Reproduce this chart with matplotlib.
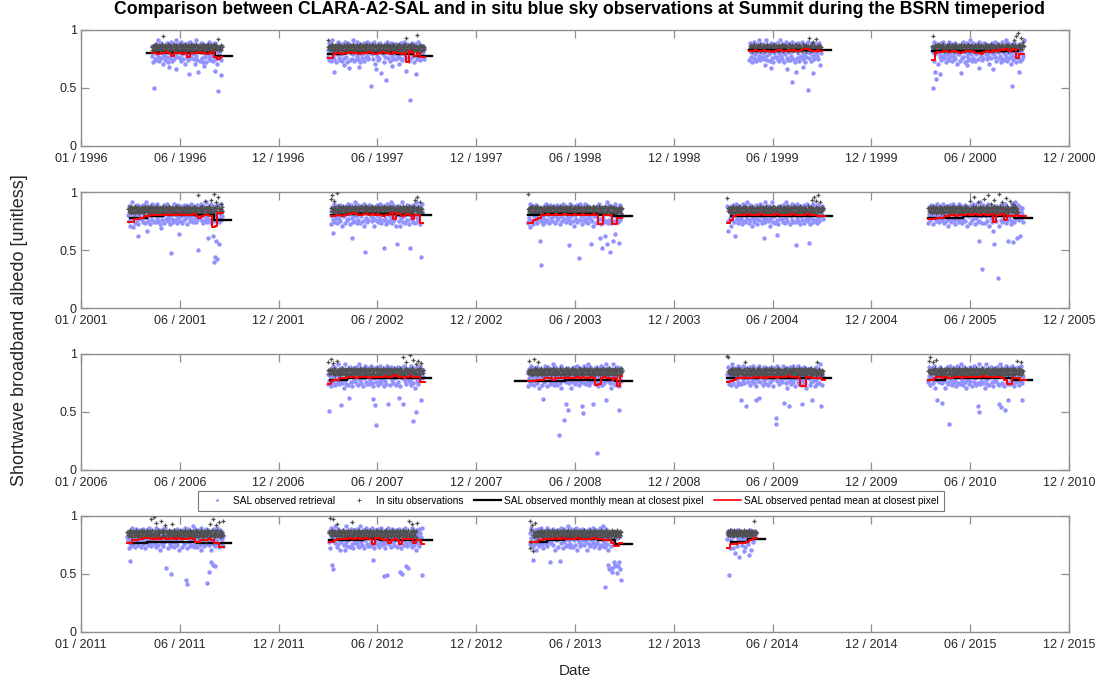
import numpy as np
import matplotlib
matplotlib.use("Agg")
import matplotlib.pyplot as plt
from matplotlib.lines import Line2D

plt.rcParams['font.family'] = ['Liberation Sans', 'DejaVu Sans']

# ---------------------------------------------------------------------------
# Data: albedo values in percent (x 0.01), one entry per day of the season
# ---------------------------------------------------------------------------
PANEL_STARTS = [1996, 2001, 2006, 2011]
SEASONS = [1996, 1997, 1999, 2000, 2001, 2002, 2003, 2004, 2005,
           2007, 2008, 2009, 2010, 2011, 2012, 2013, 2014]

# first day-of-year with observations in each season
DATA_START_DOY = {1996: 131, 1997: 91, 1999: 139, 2000: 112, 2001: 87, 2002: 96,
                  2003: 95, 2004: 99, 2005: 105, 2007: 91, 2008: 95, 2009: 99,
                  2010: 105, 2011: 85, 2012: 93, 2013: 99, 2014: 99}

# day-of-year span covered by the monthly means
MONTHLY_SPAN = {1996: (122, 278), 1997: (91, 283), 1999: (139, 291), 2000: (112, 270),
                2001: (90, 277), 2002: (96, 281), 2003: (95, 287), 2004: (106, 292),
                2005: (105, 296), 2007: (95, 281), 2008: (71, 287), 2009: (99, 291),
                2010: (105, 296), 2011: (90, 277), 2012: (93, 283), 2013: (99, 287),
                2014: (106, 169)}

MONTHLY_MEAN = {
    1996: "80 80 80 80 78",
    1997: "79 80 80 80 79 78",
    1999: "83 83 83 83 83",
    2000: "82 82 82 82 82",
    2001: "78 79 80 80 80 76",
    2002: "80 81 81 81 80 80",
    2003: "80 81 81 81 80 79",
    2004: "79 79 79 79 79 79",
    2005: "78 78 79 79 79 78",
    2007: "78 79 79 79 79 79",
    2008: "77 77 77 78 78 78 77",
    2009: "79 79 79 79 79 79",
    2010: "78 79 79 79 79 78",
    2011: "77 78 78 78 77 77",
    2012: "79 79 80 79 79 79",
    2013: "78 79 80 80 79 76",
    2014: "78 80",
}

PENTAD_MEAN = {
    1996: "80 80 79 80 80 81 80 78 80 80 80 79 80 77 80 80 80 81 80 80 79 80 81 77 75 77",
    1997: "76 76 79 80 80 79 80 80 81 80 80 79 80 80 80 81 80 79 80 80 81 80 80 79 81 80 80 79 80 72 82 80 78 80 77 77",
    1999: "82 82 83 82 82 83 82 82 81 82 83 83 82 82 83 82 83 82 82 83 84 84 83 82 82 83 82",
    2000: "74 80 81 81 82 82 81 82 82 81 80 81 82 82 82 81 80 80 79 81 82 81 83 82 82 84 83 84 82 83 84 76 79 79",
    2001: "74 74 77 77 78 78 79 79 80 80 80 80 80 80 80 81 80 80 80 81 80 80 80 80 81 79 78 79 80 80 79 70 71 82 82",
    2002: "79 79 80 80 79 80 81 81 82 81 80 80 81 81 80 81 80 81 80 79 80 80 82 77 82 81 79 80 81 80 77 80 80 73",
    2003: "73 73 76 77 78 80 80 81 80 80 81 80 80 81 80 80 80 81 80 80 81 80 80 80 81 80 72 72 80 80 80 72 72 78 78",
    2004: "73 76 79 80 80 80 80 81 80 80 80 80 81 80 80 80 80 80 81 80 80 80 80 80 81 80 80 80 80 81 80 80 80 79 79 79",
    2005: "77 77 77 78 78 78 79 79 80 80 79 80 80 80 81 80 80 81 80 80 81 80 80 81 74 80 80 81 76 80 79 79 80 79 79 79",
    2007: "74 77 78 78 79 79 79 80 80 80 79 80 80 80 80 79 80 80 80 80 80 81 80 80 82 81 80 80 79 80 81 80 80 80 76 76",
    2008: "77 77 77 78 78 78 79 79 79 78 79 79 79 79 80 79 79 79 80 79 80 79 79 80 79 73 74 79 80 79 79 78 79 72 81",
    2009: "76 77 78 79 79 79 80 79 79 79 80 80 79 80 79 80 80 80 79 80 80 80 81 80 80 80 79 72 72 80 80 79 79 79 79 78",
    2010: "78 78 79 80 80 79 80 79 79 80 80 80 79 80 80 80 80 80 80 80 81 80 80 80 80 80 80 79 78 74 74 79 79 79 78 78",
    2011: "77 77 79 79 80 80 81 81 81 80 80 81 80 81 80 80 81 80 80 81 80 80 80 81 80 78 78 79 79 79 80 79 77 77 73 73",
    2012: "78 78 79 80 80 80 80 81 80 80 81 80 80 81 80 80 76 81 81 80 79 80 77 79 80 79 76 80 80 80 80 77 79 79 76",
    2013: "78 78 78 79 79 80 80 80 80 81 80 80 81 80 80 80 80 81 80 80 80 80 80 81 80 80 80 79 79 79 77 74 74 77",
    2014: "72 76 76 76 77 77 77 78 79 80 81",
}

SAL_RETRIEVAL = {
    1996: """78 86 72 83 50 75 81 88 74 84 79 91 77 85 73 82 89 76 80 87 71 84 78 86 81
             74 83 89 77 81 72 87 68 85 76 90 79 83 73 88 82 75 86 78 91 66 81 84 77 88
             85 76 81 90 73 84 79 87 75 82 88 71 80 86 77 83 89 74 62 78 82 90 76 84 79
             80 88 75 83 71 86 78 91 82 74 85 64 87 73 84 81 89 76 83 72 88 80 69 77 86
             72 84 87 79 82 76 90 74 85 81 78 88 73 83 86 77 65 89 75 84 82 71 47 79 85
             83 77 61 74 86""",
    1997: """83 77 89 74 86 80 73 85 91 78 82 75 64 81 84 72 87 79 83 90 76 85 74 81 88
             79 85 73 88 70 76 84 90 77 81 86 72 83 89 67 85 74 80 87 75 82 91 79 84 73
             87 74 82 78 90 81 75 86 68 72 88 79 84 76 85 80 89 73 82 86 77 83 90 78 75
             76 89 81 84 52 87 79 82 88 75 83 90 71 66 80 78 84 74 87 82 76 89 81 85 63
             82 79 86 72 84 88 77 81 57 90 83 76 85 80 87 73 82 89 78 69 75 86 81 79 88
             88 75 80 85 78 83 71 87 82 76 89 80 74 86 84 79 90 77 83 65 85 81 88 76 82
             73 81 40 80 76 89 84 78 85 72 82 88 62 86 75 83 90 77 81 84 74 87 80 83 78
             81 86 75 84""",
    1999: """74 83 89 77 81 72 87 80 85 76 90 79 83 73 88 82 75 86 78 91 74 81 84 77 88
             80 88 75 83 70 86 78 91 82 74 85 79 87 73 84 67 89 76 83 72 88 80 85 77 86
             83 77 89 74 86 80 73 85 91 78 82 75 88 81 84 72 87 79 83 90 76 66 74 81 88
             87 74 82 78 90 55 75 86 83 72 88 64 84 76 85 80 89 73 82 86 77 83 90 78 75
             68 79 86 72 84 88 77 81 48 90 83 76 85 80 87 73 82 89 78 63 75 86 81 79 88
             84 78 87 75 82 89 70 80""",
    2000: """85 50 81 90 73 64 79 87 58 82 88 71 80 86 77 62 89 74 85 78 82 90 76 84 79
             72 84 87 79 82 76 90 74 85 81 78 88 73 83 86 77 80 89 75 84 82 71 87 79 85
             79 85 73 63 82 76 84 90 77 81 86 72 83 89 78 70 74 80 87 75 82 91 79 84 73
             76 89 81 84 73 87 79 82 88 75 83 90 67 86 80 78 84 74 87 82 76 89 81 85 79
             88 75 80 85 78 83 71 87 82 76 89 80 66 86 84 79 90 77 83 73 85 81 88 76 82
             78 86 72 83 90 75 81 88 74 84 79 91 77 85 73 82 89 76 80 87 71 84 78 52 81
             74 83 89 77 81 72 87 80 85 76 64 79 83 73 88 82 75 86 78 91""",
    2001: """80 88 75 83 71 86 78 91 82 70 85 79 87 73 84 81 89 76 62 72 88 80 85 77 86
             83 77 89 74 86 80 73 85 91 78 66 75 88 81 84 72 87 79 83 90 76 85 74 81 88
             87 74 82 78 90 81 75 86 83 72 69 79 84 76 85 80 89 73 82 86 77 83 90 78 75
             82 79 86 72 84 47 77 81 74 90 83 76 85 80 87 73 82 89 78 64 75 86 81 79 88
             73 81 87 80 76 89 84 78 85 72 82 88 79 86 75 83 90 77 81 84 74 87 80 83 78
             74 83 89 77 81 50 87 80 85 76 90 79 83 73 88 82 75 86 78 91 74 81 60 77 88
             85 76 81 90 73 84 79 62 75 40 88 44 80 58 77 42 89 74 55 78 82 90 76 84 79""",
    2002: """72 84 87 79 65 76 90 74 85 81 78 88 73 83 86 77 80 89 75 84 82 71 87 79 85
             79 85 73 88 82 76 84 90 77 81 86 72 83 89 78 60 74 80 87 75 82 91 79 84 73
             76 89 81 84 73 87 79 82 88 75 83 90 71 86 48 78 84 74 87 82 76 89 81 85 79
             88 75 80 85 78 83 71 87 82 76 89 80 74 86 84 79 90 77 83 73 85 81 88 76 52
             78 86 72 83 90 75 81 88 74 84 79 91 77 85 73 82 89 76 80 87 71 84 55 86 81
             80 88 75 83 71 86 78 91 82 74 85 79 87 73 84 81 89 76 83 72 88 80 52 77 86
             83 77 89 74 86 80 73 85 91 78 82 75 88 81 84 72 87 44 83 90""",
    2003: """73 74 82 78 90 70 75 86 83 72 88 79 84 76 85 80 89 73 82 86 77 83 58 78 75
             37 79 86 72 84 88 77 81 74 90 83 76 85 80 87 73 82 89 78 84 75 86 81 79 88
             73 81 87 80 76 89 84 78 85 72 82 88 79 86 75 83 90 77 81 84 74 87 80 83 78
             85 76 54 90 73 84 79 87 75 82 88 71 80 86 77 83 89 74 85 43 82 90 76 84 79
             72 84 87 79 82 76 90 74 85 81 78 88 73 83 86 77 80 55 75 84 82 71 87 79 85
             79 85 73 88 82 76 84 90 77 60 86 72 83 52 78 85 74 62 87 75 82 91 55 84 73
             76 89 81 48 73 87 79 82 58 75 83 90 64 86 80 78 84 74 87 56 76 89 81 85 79""",
    2004: """88 75 66 85 78 83 71 87 82 76 89 80 74 86 62 79 90 77 83 73 85 81 88 76 82
             78 86 72 83 90 75 81 88 74 84 79 91 77 85 73 82 89 76 80 87 71 84 78 86 81
             74 83 89 77 81 72 87 80 85 76 90 79 83 73 88 82 75 60 78 91 74 81 84 77 88
             80 88 75 83 71 86 78 91 82 74 85 79 87 73 84 81 63 76 83 72 88 80 85 77 86
             83 77 89 74 86 80 73 85 91 78 82 75 88 81 84 72 87 79 83 90 76 85 74 81 88
             87 74 54 78 90 81 75 86 83 72 88 79 84 76 85 80 89 73 82 86 77 83 90 78 75
             56 79 86 72 84 88 77 81 74 90 83 76 85 80 87 73 82 89 78 84 75 86 81 79 88
             80 85 77""",
    2005: """73 81 87 80 76 89 84 78 85 72 82 88 79 86 75 83 90 77 81 84 74 87 80 83 78
             85 76 81 90 73 84 79 87 75 82 88 71 80 86 77 83 89 74 85 78 82 90 76 84 79
             72 84 87 79 82 76 90 74 85 81 78 88 73 83 86 77 80 89 75 84 82 71 87 79 85
             79 85 73 88 82 76 84 90 77 81 86 72 83 89 78 85 74 80 58 75 82 91 79 84 73
             34 89 81 84 73 87 79 82 88 75 83 90 71 86 80 78 84 74 87 66 76 55 81 85 79
             88 75 80 85 26 83 71 87 82 76 89 80 74 86 84 79 90 77 83 73 85 81 58 76 82
             78 86 72 83 90 75 57 88 74 84 79 91 77 85 60 82 89 76 80 87 62 84 78 86 81
             74""",
    2007: """74 83 51 77 81 72 87 80 85 76 90 79 83 73 88 82 75 86 78 91 74 81 84 77 88
             56 88 75 83 71 86 78 91 82 74 85 79 87 73 62 81 89 76 83 72 88 80 85 77 86
             83 77 89 74 86 80 73 85 91 78 82 75 88 81 84 72 87 79 83 90 76 85 74 81 88
             87 74 82 78 90 81 75 86 61 72 88 79 56 76 39 80 89 73 82 86 77 83 90 78 75
             82 79 86 72 84 88 77 81 74 90 83 57 85 80 87 73 82 89 78 84 75 86 81 79 88
             73 81 87 80 76 89 84 62 85 72 82 88 79 86 57 83 90 77 81 84 74 87 80 83 78
             85 76 81 90 73 84 79 42 75 82 88 71 80 50 77 83 89 74 85 78 82 90 60 84 79
             80 86""",
    2008: """72 84 87 79 82 76 90 74 85 81 78 88 73 83 86 77 80 89 75 84 82 71 87 79 85
             79 85 73 61 82 76 84 90 77 81 86 72 83 89 78 85 74 80 87 75 82 91 79 84 73
             76 89 81 84 73 87 79 82 30 75 83 90 71 86 80 78 84 43 87 82 76 57 81 85 52
             88 75 80 85 78 83 71 87 82 76 89 80 74 86 84 79 90 77 83 73 85 81 88 76 82
             55 86 49 83 90 75 81 88 74 84 79 91 77 85 73 82 89 76 80 87 57 84 78 86 81
             74 83 89 77 15 72 87 80 85 76 90 79 83 73 88 82 75 86 78 91 60 81 84 77 88
             80 88 75 83 71 86 78 91 82 74 85 79 87 73 84 81 89 76 52 72 88 80 85 77 86""",
    2009: """83 77 89 74 86 80 73 85 91 78 82 75 88 81 84 72 87 79 83 90 76 85 74 81 88
             60 74 82 78 90 81 75 86 83 55 88 79 84 76 85 80 89 73 82 86 77 83 90 78 75
             82 79 60 72 84 88 77 81 62 90 83 76 85 80 87 73 82 89 78 84 75 86 81 79 88
             73 81 87 80 76 89 84 78 85 72 82 88 79 86 45 40 90 77 81 84 74 87 80 83 78
             85 76 81 90 58 84 79 87 75 82 88 71 80 55 77 83 89 74 85 78 82 90 76 84 79
             72 84 87 79 82 76 90 74 85 81 78 88 73 57 86 77 80 89 75 84 82 71 87 79 85
             79 85 73 88 82 76 84 60 77 81 86 72 83 89 78 85 74 80 87 75 82 91 79 55 73
             84 80""",
    2010: """76 89 81 84 73 87 79 82 88 75 83 90 71 86 80 78 84 60 87 82 76 89 81 85 79
             58 75 80 85 78 83 71 87 82 76 89 80 74 86 40 79 90 77 83 73 85 81 88 76 82
             78 86 72 83 90 75 81 88 74 84 79 91 77 85 73 82 89 76 80 87 71 84 78 86 81
             74 83 89 77 81 72 87 80 85 76 90 79 83 73 88 82 75 55 50 91 74 81 84 77 88
             80 88 75 83 71 86 78 91 82 74 85 79 87 73 84 81 89 76 83 72 88 80 85 77 86
             83 77 89 74 86 57 73 85 91 54 82 75 88 81 84 72 52 79 83 90 76 85 74 60 88
             87 74 82 78 90 81 75 86 83 72 88 79 84 76 85 80 89 73 82 86 77 83 90 60 75
             81""",
    2011: """82 79 86 72 84 61 77 81 74 90 83 76 85 80 87 73 82 89 78 84 75 86 81 79 88
             73 81 87 80 76 89 84 78 85 72 82 88 79 86 75 83 90 77 81 84 74 87 80 83 78
             85 76 81 90 73 84 79 87 75 82 88 71 80 86 77 83 89 74 85 78 82 90 55 84 79
             72 84 87 79 82 76 50 74 85 81 78 88 73 83 86 77 80 89 75 84 82 71 87 79 85
             79 85 73 88 82 76 84 90 77 45 41 72 83 89 78 85 74 80 87 75 82 91 79 84 73
             76 89 81 84 73 87 79 82 88 75 83 90 71 86 80 78 84 74 87 82 76 89 42 85 79
             88 75 52 85 78 60 71 87 58 76 89 80 74 57 84 79 90 77 83 73 85 81 88 76 82
             80 86 74 83""",
    2012: """78 86 72 83 90 58 81 88 54 84 79 91 77 85 73 82 89 76 80 87 71 84 78 86 81
             80 88 75 83 71 86 78 91 82 74 85 79 87 73 84 81 89 76 83 72 88 80 85 77 86
             83 77 89 74 86 80 73 85 91 78 82 75 88 81 84 72 87 79 83 90 76 85 74 81 88
             87 74 82 78 90 81 75 62 83 72 88 79 84 76 85 80 89 73 82 86 77 83 90 78 75
             82 79 48 72 84 88 77 81 49 90 83 76 85 80 87 73 82 89 78 84 75 86 81 79 88
             73 81 87 80 76 89 52 78 85 72 50 88 79 86 75 83 90 77 57 84 74 55 80 83 78
             85 76 81 90 73 84 79 87 75 82 88 71 80 86 77 83 89 74 85 78 82 90 49""",
    2013: """85 76 81 90 73 84 62 87 75 82 88 71 80 86 77 83 89 74 85 78 82 90 76 84 79
             72 84 87 79 82 76 90 74 85 81 78 88 60 83 86 77 80 89 75 84 82 71 87 79 85
             79 85 73 88 82 61 84 90 77 81 86 72 83 89 78 85 74 80 87 75 82 91 79 84 73
             76 89 81 84 73 87 79 82 88 75 83 90 71 86 80 78 84 74 87 82 76 89 81 85 79
             88 75 80 85 78 83 71 87 82 76 89 80 74 86 84 79 90 77 83 73 85 81 88 76 82
             78 86 72 83 90 75 81 88 74 84 79 91 77 39 73 82 89 76 80 58 71 84 54 86 81
             74 52 55 80 85 60 84 57 58 85 83 51 81 57 84 60 83 54 45""",
    2014: """80 84 87 49 85 72 88 79 84 86 72 85 83 87 68 84 86 74 88 80 85 65 79 86 84
             82 87 75 80 84 70 83 86 73 85 79 87 84 76 66 80 88 83 85 71 84 86 78 79
             87 83 84 85""",
}

IN_SITU = {
    1996: """85 83 86 84 87 82 85 88 84 83 86 85 82 87 84 86 83 85 88 84 95 82 86 85 83
             87 84 85 82 86 88 83 85 84 87 82 86 84 85 83 88 86 84 82 85 87 83 86 84 85
             82 86 88 84 83 85 87 84 86 82 85 83 88 84 86 85 83 87 84 82 86 85 88 83 84
             86 85 82 87 84 83 86 88 85 84 82 86 85 83 87 84 86 85 82 88 84 85 86 83 87
             84 86 83 85 88 82 84 86 85 87 83 84 86 82 85 88 84 83 87 85 86 84 92 83 85
             86 84 87 83 85""",
    1997: """91 85 84 86 83 87 85 84 88 82 86 85 83 87 84 86 85 82 88 84 85 83 86 87 84
             85 83 86 84 82 87 85 86 83 84 88 85 82 86 84 83 87 85 84 86 82 85 88 83 86
             84 86 85 83 87 84 82 86 85 88 84 83 86 85 82 87 84 86 83 85 84 88 82 86 85
             83 87 84 85 86 82 88 84 83 86 85 84 87 82 85 86 83 84 88 85 86 82 84 87 83
             86 84 85 82 87 83 86 85 84 88 82 85 86 83 84 87 85 82 86 84 83 88 85 86 84
             85 82 87 84 86 83 85 88 84 82 86 85 83 87 84 86 85 82 88 93 84 85 83 86 87
             84 86 83 85 88 82 84 86 85 83 87 84 86 82 85 96 84 83 86 85 87 84 82 86 85
             83 86 84 85""",
    1999: """84 86 83 85 87 82 84 85 86 83 88 84 82 86 85 83 87 84 85 86 82 88 84 83 85
             86 84 83 87 85 82 86 84 85 88 83 84 86 82 85 87 84 83 86 85 84 82 88 85 86
             83 85 84 86 82 87 85 84 83 86 88 84 85 82 86 83 85 87 84 86 85 83 82 88 84
             85 86 83 84 87 85 82 86 84 83 85 88 84 86 82 85 83 87 84 85 86 84 83 82 88
             84 85 86 83 85 82 87 84 86 85 83 93 84 86 85 82 88 84 83 90 86 85 84 83 92
             86 84 85 83 87 84 86 85""",
    2000: """86 84 95 83 85 87 84 82 86 85 83 88 84 86 85 82 87 84 83 86 85 88 84 82 86
             85 83 87 84 86 82 85 88 84 83 86 85 87 82 84 86 83 85 88 84 82 86 85 83 87
             84 86 85 82 88 84 83 86 85 87 84 82 86 83 85 84 88 86 82 85 84 83 87 85 86
             83 85 84 86 82 87 85 84 83 88 86 84 85 82 86 83 87 84 85 86 82 84 88 85 83
             86 84 85 87 83 82 86 85 84 88 83 85 86 82 84 87 85 83 86 84 85 82 88 84 86
             85 83 86 84 87 85 82 86 84 85 83 88 84 86 85 82 87 84 86 85 83 84 88 86 85
             84 86 91 85 87 83 95 84 86 97 85 88 84 86 93 85 84 87 90 86""",
    2001: """85 83 86 84 88 82 85 87 84 83 86 85 82 88 84 86 83 85 87 84 86 82 85 83 86
             84 87 85 83 86 82 84 88 85 86 83 84 87 85 82 86 84 83 88 85 86 84 82 87 85
             83 86 84 85 88 82 86 84 83 87 85 84 86 82 85 88 84 83 86 85 87 84 82 86 85
             84 88 83 85 86 82 84 87 85 83 86 84 85 88 82 86 84 83 85 87 84 86 82 85 84
             86 85 83 87 84 82 86 85 84 88 83 85 86 84 82 87 85 83 86 84 85 88 82 86 84
             85 83 86 84 97 82 85 87 84 86 83 85 88 84 82 86 85 92 84 87 83 86 85 84 88
             82 86 84 93 85 83 87 84 98 82 86 85 91 84 88 83 96 85 86 84 82 90 85 87 84""",
    2002: """94 86 84 97 83 85 87 92 84 86 85 83 99 88 84 86 82 85 87 84 83 86 85 88 84
             82 86 85 83 87 84 86 85 82 88 84 83 86 85 87 84 82 86 85 83 88 84 86 85 82
             87 84 83 86 85 84 88 82 86 85 83 87 84 86 82 85 88 84 83 86 85 87 84 82 86
             85 83 88 84 86 82 85 87 84 83 86 85 82 88 84 86 85 83 87 84 82 86 85 84 88
             83 86 84 85 82 87 85 84 86 83 88 84 85 82 86 84 87 85 83 86 84 82 88 85 84
             86 83 85 87 84 82 86 85 88 84 83 86 85 82 87 84 86 83 85 88 84 82 86 85 84
             87 83 86 85 84 88 93 86 85 96 84 87 83 86 85 91 84 86 85 83""",
    2003: """98 85 84 86 83 87 85 84 88 82 86 85 83 87 84 86 85 82 88 84 85 83 86 87 84
             86 83 85 84 82 87 86 85 83 84 88 86 82 85 84 83 87 86 84 85 82 86 88 83 85
             84 85 86 83 87 84 82 85 86 88 84 83 85 86 82 87 84 85 83 86 84 88 82 85 86
             83 87 84 86 85 82 88 84 83 85 86 84 87 82 86 85 83 84 88 86 85 82 84 87 83
             85 84 86 82 87 83 85 86 84 88 82 86 85 83 84 87 86 82 85 84 83 88 86 85 84
             86 82 87 84 85 83 86 88 84 82 85 86 83 87 84 85 86 82 88 84 84 86 83 85 87
             84 85 83 86 88 82 84 85 86 83 87 84 85 82 86 85 84 83 85 86 87 84 82 85 86""",
    2004: """95 84 86 85 83 87 84 82 86 85 88 83 84 86 82 85 87 84 83 86 85 84 88 82 86
             84 85 83 87 86 84 82 85 88 84 86 83 85 84 87 82 86 85 83 84 88 86 85 82 84
             86 83 85 84 87 82 86 85 84 83 88 84 85 86 82 87 84 83 85 86 84 82 88 85 83
             85 86 84 82 87 85 83 86 84 88 85 82 84 86 83 85 87 84 86 82 85 84 83 88 86
             84 82 86 85 83 87 84 86 85 82 88 84 83 85 86 84 82 87 85 83 86 84 85 88 82
             86 85 83 84 87 85 82 86 84 83 88 85 84 86 82 85 83 87 84 86 85 82 84 88 83
             85 84 86 82 87 85 83 93 84 86 96 85 82 87 92 84 86 97 85 83 86 91 84 85 87
             84 86 85""",
    2005: """86 84 85 83 87 84 86 82 85 88 84 83 86 85 82 87 84 86 83 85 84 88 86 82 85
             84 86 83 85 87 82 84 86 85 83 88 84 86 85 82 87 84 83 86 85 84 88 82 86 85
             83 87 84 86 85 82 88 84 83 86 85 87 84 82 86 85 83 88 84 86 85 82 87 84 86
             85 83 92 84 86 85 82 88 84 96 85 83 86 84 87 82 85 91 86 84 83 88 85 86 84
             82 87 85 94 84 86 83 85 88 84 97 86 82 85 84 90 87 83 86 85 84 88 93 82 86
             85 84 87 83 86 98 85 82 88 84 86 85 91 83 87 84 86 82 85 95 84 88 86 83 85
             84 92 86 85 83 87 84 90 86 85 82 88 84 86 85 83""",
    2007: """86 93 85 83 87 96 84 86 85 92 83 88 84 86 82 85 94 84 83 86 85 87 84 82 86
             85 83 88 84 86 85 82 87 84 86 83 85 88 84 82 86 85 83 87 84 86 85 82 88 84
             83 86 85 87 84 82 86 85 83 88 84 86 85 82 87 84 83 86 85 88 84 82 86 85 83
             87 84 86 85 82 88 84 83 86 85 87 84 82 86 85 83 88 84 86 85 82 87 84 86 83
             85 84 88 82 86 85 83 87 84 86 85 82 88 84 83 86 85 87 84 82 86 85 83 88 84
             86 85 82 87 84 83 86 85 88 84 82 86 85 83 97 84 86 85 82 88 93 84 86 85 83
             87 84 99 86 82 85 88 95 84 83 86 85 91 84 87 82 86 94 85 84 83 88 92 86 85
             84 86""",
    2008: """85 84 94 86 83 85 87 84 82 86 85 96 83 88 84 86 85 82 87 84 93 86 85 83 84
             88 82 86 85 84 83 87 85 86 82 84 88 85 83 86 84 85 87 82 86 84 83 88 85 84
             86 82 85 87 84 83 86 85 84 88 82 86 85 83 87 84 85 86 82 84 88 83 85 86 84
             87 85 82 86 84 83 85 88 84 86 82 85 87 84 83 86 85 84 82 88 86 85 83 84 87
             85 82 86 84 88 83 85 86 84 82 87 85 84 86 83 85 88 82 84 86 85 83 87 84 86
             82 85 84 88 86 83 85 84 87 82 86 85 83 84 88 86 85 82 84 87 83 85 86 84 82
             88 85 84 86 83 87 85 82 86 84 85 88 83 86 84 85 82 87 84 86 85 83 88 84 85""",
    2009: """98 97 85 84 86 83 87 85 84 88 82 86 85 83 87 84 86 85 82 88 84 85 83 86 87
             84 85 83 86 84 82 87 85 93 83 84 88 85 82 86 84 83 87 85 84 86 82 85 88 83
             86 84 85 83 87 86 82 84 85 88 86 83 84 85 82 87 86 84 83 85 86 88 82 84 85
             83 87 86 84 85 82 88 86 83 84 85 86 87 82 84 85 83 86 88 84 85 82 86 87 83
             84 86 85 82 87 83 84 85 86 88 82 84 85 83 86 87 84 82 85 86 83 88 84 85 86
             84 82 87 86 85 83 84 88 86 82 85 84 83 87 86 85 84 82 88 86 84 85 83 84 87
             86 85 83 84 88 82 86 85 84 83 87 86 85 82 84 93 85 83 84 86 87 85 82 84 86
             83 85""",
    2010: """85 94 86 84 97 83 85 87 93 84 86 85 83 88 95 84 86 82 85 87 84 83 86 85 88
             84 82 86 85 83 87 84 86 85 82 88 84 83 86 85 87 84 82 86 85 83 88 84 86 85
             82 87 84 83 86 85 84 88 82 86 85 83 87 84 86 82 85 88 84 83 86 85 87 84 82
             86 85 83 88 84 86 82 85 87 84 83 86 85 82 88 84 86 85 83 87 84 82 86 85 84
             88 83 86 84 85 82 87 85 84 86 83 88 84 85 82 86 84 87 85 83 86 84 82 88 85
             84 86 83 85 87 84 82 86 85 88 84 83 86 85 82 87 84 86 83 85 88 84 82 86 85
             84 87 83 86 85 84 88 82 86 85 83 87 84 86 94 85 83 88 84 86 85 82 93 86 84
             85""",
    2011: """86 84 85 87 83 86 88 84 85 86 82 87 85 84 86 83 88 85 84 86 82 85 87 84 86
             85 83 88 84 86 85 82 87 84 86 85 83 88 84 86 85 82 87 84 97 85 83 88 84 99
             85 82 87 84 94 85 83 88 84 86 85 82 87 96 86 85 83 88 84 86 92 82 87 84 86
             85 83 88 84 86 85 82 87 84 93 85 83 88 84 86 85 82 87 84 86 85 83 88 84 86
             85 82 87 84 86 85 83 88 84 86 85 82 87 84 86 85 83 88 84 86 85 82 87 84 86
             85 83 88 84 86 85 82 87 84 86 85 83 88 84 86 85 82 87 84 86 85 83 88 84 86
             85 82 87 84 93 85 83 88 84 97 85 82 87 84 92 85 83 88 84 95 85 82 87 84 86
             85 83 96 84""",
    2012: """87 85 98 84 86 83 88 85 97 86 84 85 87 83 93 85 84 88 86 83 85 87 84 86 85
             83 88 84 86 85 82 87 84 86 85 83 88 84 86 85 82 87 84 95 85 83 88 84 86 85
             82 87 84 86 85 83 88 84 86 85 82 87 84 86 85 83 88 84 86 85 82 87 84 86 85
             83 88 84 86 85 82 87 84 86 85 83 88 84 86 85 82 87 84 86 85 83 88 84 86 85
             82 87 84 86 85 83 88 84 86 85 82 87 84 86 85 83 88 84 86 85 82 87 84 86 85
             83 88 84 86 85 82 87 84 86 85 83 88 84 86 85 82 87 84 86 85 83 88 84 96 85
             82 87 84 86 93 83 88 84 86 85 82 87 94""",
    2013: """96 72 88 78 92 84 70 86 82 85 94 83 86 84 85 82 87 84 86 85 83 88 84 86 85
             82 87 84 86 85 83 88 84 86 85 82 87 84 86 85 83 88 84 86 85 82 87 84 86 85
             83 88 84 86 85 82 87 84 86 85 83 88 84 86 85 82 87 84 86 85 83 88 84 86 85
             82 87 84 86 85 83 88 84 86 85 82 87 84 86 85 83 88 84 86 85 82 87 84 86 85
             83 88 84 86 85 82 87 84 86 85 83 88 84 86 85 82 87 84 86 85 83 88 84 86 85
             82 87 84 86 85 83 88 84 86 85 82 87 84 86 85 83 88 84 86 85 82 87 84 86 85
             83 88 84 86 85 82 87 84 86 85 83 88 84 86 85 82 87 84 86""",
    2014: """85 87 84 86 88 83 85 86 84 87 85 83 88 84 86 85 87 84 83 86 85 88 84 86 85
             87 84 83 86 85 84 88 85 86 83 87 84 85 86 84 88 83 85 86 84 87 85 83 86 96
             84 87 85 86""",
}

# ---------------------------------------------------------------------------
BLUE = '#9292ff'
GREY = '#505050'
FRAME = '#8f8f8f'
TEXT = '#262626'


def values(s):
    return np.array(s.split(), dtype=float) / 100.0


def tick_labels(p0):
    labs = []
    for k in range(11):
        if k == 0:
            labs.append(f"01 / {p0}")
        elif k % 2 == 1:
            labs.append(f"06 / {p0 + (k - 1) // 2}")
        else:
            labs.append(f"12 / {p0 + k // 2 - 1}")
    return labs


fig = plt.figure(figsize=(10.99, 6.82), dpi=100)
ax_left, ax_width, ax_height = 81 / 1099, 988 / 1099, 116 / 682
bottoms = [536 / 682, 374 / 682, 212 / 682, 50 / 682]

for p0, bottom in zip(PANEL_STARTS, bottoms):
    ax = fig.add_axes([ax_left, bottom, ax_width, ax_height])
    for yr in SEASONS:
        if not (p0 <= yr < p0 + 5):
            continue
        d0 = DATA_START_DOY[yr]
        b = values(SAL_RETRIEVAL[yr])
        g = values(IN_SITU[yr])
        xb = yr + (d0 + np.arange(len(b))) / 365.0
        xg = yr + (d0 + np.arange(len(g))) / 365.0
        ax.plot(xb, b, ls='none', marker='o', ms=3.2, mfc=BLUE, mec='none', zorder=2)
        ax.plot(xg, g, ls='none', marker='+', ms=3.2, mew=0.9, color=GREY, zorder=3)

        m = values(MONTHLY_MEAN[yr])
        m0, m1 = MONTHLY_SPAN[yr]
        xm = yr + np.linspace(m0, m1, len(m) + 1) / 365.0
        ax.plot(xm, np.r_[m, m[-1]], drawstyle='steps-post', color='black', lw=1.7, zorder=4)

        p = values(PENTAD_MEAN[yr])
        xp = yr + (d0 + 5 * np.arange(len(p) + 1)) / 365.0
        ax.plot(xp, np.r_[p, p[-1]], drawstyle='steps-post', color='#ff0000', lw=1.4, zorder=5)

    ax.set_xlim(p0, p0 + 5)
    ax.set_ylim(0, 1)
    ax.set_xticks(p0 + 0.5 * np.arange(11))
    ax.set_xticklabels(tick_labels(p0))
    ax.set_yticks([0, 0.5, 1])
    ax.set_yticklabels(['0', '0.5', '1'])
    ax.tick_params(direction='in', length=6, width=0.9, color=FRAME,
                   top=True, right=True, labelsize=9, labelcolor=TEXT)
    ax.tick_params(axis='x', pad=5)
    ax.tick_params(axis='y', pad=3)
    for sp in ax.spines.values():
        sp.set_color(FRAME)
        sp.set_linewidth(1.0)

fig.text(580 / 1099, 1 - 10 / 682,
         "Comparison between CLARA-A2-SAL and in situ blue sky observations at Summit during the BSRN timeperiod",
         ha='center', va='center', fontsize=12.7, fontweight='bold', color='black')
fig.text(20 / 1099, 1 - 330 / 682, "Shortwave broadband albedo [unitless]",
         rotation=90, ha='center', va='center', fontsize=13, color=TEXT)
fig.text(575 / 1099, 1 - 671 / 682, "Date", ha='center', va='center', fontsize=11, color=TEXT)

handles = [
    Line2D([], [], ls='none', marker='o', ms=2.0, mfc=BLUE, mec='none'),
    Line2D([], [], ls='none', marker='+', ms=2.5, mew=0.7, color=GREY),
    Line2D([], [], color='black', lw=1.6),
    Line2D([], [], color='#ff0000', lw=1.2),
]
labels = ["SAL observed retrieval", "In situ observations",
          "SAL observed monthly mean at closest pixel",
          "SAL observed pentad mean at closest pixel"]
leg = fig.legend(handles, labels, loc='center', bbox_to_anchor=(571 / 1099, 1 - 501 / 682),
                 ncol=4, fontsize=7.3, frameon=True, fancybox=False, handlelength=2.7,
                 handletextpad=0.3, columnspacing=1.0, borderpad=0.45, borderaxespad=0)
leg.get_frame().set_edgecolor('#555555')
leg.get_frame().set_linewidth(0.8)

fig.savefig('out.png', dpi=100)
